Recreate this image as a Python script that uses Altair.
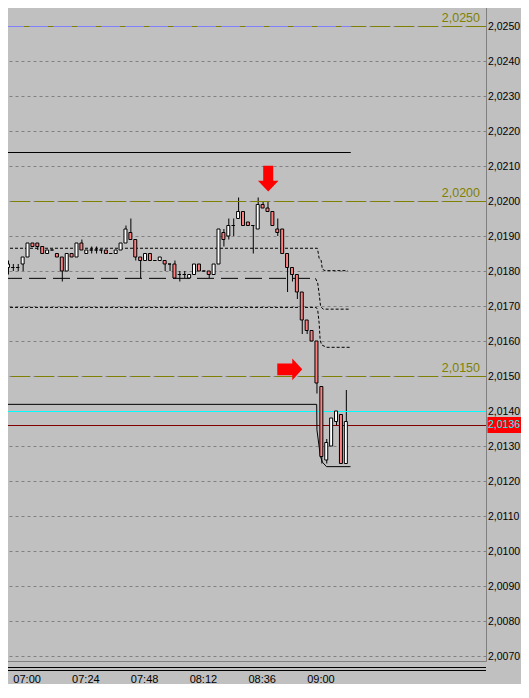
import altair as alt
import pandas as pd

FONT = "Liberation Sans"

# ---------------- data ----------------
FIRST_BAR_MIN = -2          # first bar = 06:58 (minutes after 07:00)
BAR_STEP_MIN = 2            # 2-minute bars

OPEN = [2.0181, 2.0181, 2.0181, 2.0182, 2.0184, 2.0188, 2.0188, 2.0187, 2.0185, 2.0186,
        2.0185, 2.0184, 2.0180, 2.0185, 2.0184, 2.0188, 2.0185, 2.0186, 2.0186, 2.0186,
        2.0186, 2.0185, 2.0185, 2.0186, 2.0188, 2.0191, 2.0189, 2.0184, 2.0183, 2.0185,
        2.0183, 2.0183, 2.0183, 2.0182, 2.0182, 2.0179, 2.0179, 2.0178, 2.0179, 2.0182,
        2.0180, 2.0180, 2.0179, 2.0182, 2.0191, 2.0190, 2.0193, 2.0195, 2.0197, 2.0194,
        2.0193, 2.0192, 2.0199, 2.0198, 2.0197, 2.0192, 2.0192, 2.0185, 2.0181, 2.0179,
        2.0174, 2.0166, 2.0163, 2.0160, 2.0147, 2.0126, 2.0130, 2.0137, 2.0139, 2.0125]
HIGH = [2.0183, 2.0182, 2.0182, 2.0184, 2.0188, 2.0188, 2.0188, 2.0187, 2.0186, 2.0186,
        2.0185, 2.0184, 2.0185, 2.0185, 2.0188, 2.0189, 2.0186, 2.0187, 2.0187, 2.0186,
        2.0186, 2.0185, 2.0186, 2.0188, 2.0193, 2.0195, 2.0189, 2.0184, 2.0185, 2.0185,
        2.0183, 2.0184, 2.0183, 2.0182, 2.0183, 2.0180, 2.0180, 2.0179, 2.0182, 2.0182,
        2.0180, 2.0180, 2.0182, 2.0192, 2.0192, 2.0195, 2.0195, 2.0201, 2.0197, 2.0194,
        2.0193, 2.0201, 2.0200, 2.0200, 2.0197, 2.0195, 2.0192, 2.0185, 2.0181, 2.0179,
        2.0174, 2.0166, 2.0163, 2.0160, 2.0147, 2.0132, 2.0138, 2.0140, 2.0139, 2.0146]
LOW = [2.0179, 2.0180, 2.0180, 2.0180, 2.0184, 2.0187, 2.0186, 2.0185, 2.0185, 2.0186,
       2.0184, 2.0177, 2.0180, 2.0184, 2.0184, 2.0186, 2.0185, 2.0185, 2.0185, 2.0185,
       2.0185, 2.0185, 2.0185, 2.0186, 2.0188, 2.0189, 2.0183, 2.0178, 2.0183, 2.0183,
       2.0183, 2.0183, 2.0180, 2.0180, 2.0178, 2.0177, 2.0178, 2.0178, 2.0179, 2.0180,
       2.0180, 2.0178, 2.0179, 2.0182, 2.0187, 2.0189, 2.0190, 2.0195, 2.0193, 2.0193,
       2.0185, 2.0192, 2.0198, 2.0197, 2.0193, 2.0190, 2.0185, 2.0174, 2.0177, 2.0172,
       2.0162, 2.0162, 2.0160, 2.0145, 2.0125, 2.0125, 2.0130, 2.0136, 2.0125, 2.0125]
CLOSE = [2.0182, 2.0181, 2.0181, 2.0184, 2.0188, 2.0187, 2.0187, 2.0185, 2.0186, 2.0186,
         2.0184, 2.0180, 2.0185, 2.0184, 2.0188, 2.0186, 2.0186, 2.0186, 2.0186, 2.0186,
         2.0185, 2.0185, 2.0186, 2.0188, 2.0192, 2.0189, 2.0184, 2.0183, 2.0185, 2.0183,
         2.0183, 2.0184, 2.0182, 2.0182, 2.0178, 2.0179, 2.0179, 2.0179, 2.0182, 2.0180,
         2.0180, 2.0179, 2.0182, 2.0192, 2.0189, 2.0193, 2.0193, 2.0197, 2.0193, 2.0193,
         2.0193, 2.0199, 2.0198, 2.0197, 2.0193, 2.0191, 2.0185, 2.0181, 2.0179, 2.0174,
         2.0166, 2.0163, 2.0160, 2.0148, 2.0127, 2.0131, 2.0138, 2.0140, 2.0125, 2.0137]

TIME_TICKS = [0, 24, 48, 72, 96, 120]
TIME_LABELS = ["07:00", "07:24", "07:48", "08:12", "08:36", "09:00"]
PRICE_TICKS = [2.007, 2.008, 2.009, 2.010, 2.011, 2.012, 2.013, 2.014, 2.015, 2.016,
               2.017, 2.018, 2.019, 2.020, 2.021, 2.022, 2.023, 2.024, 2.025]

OLIVE_LEVELS = [2.0250, 2.0200, 2.0150]
OLIVE_LABELS = ["2,0250", "2,0200", "2,0150"]
BLUE_LEVEL = [2.0250]
BLACK_LEVEL = [2.0214]
SEGMENT_START = [-3.2]
SEGMENT_END = [138.0]
CYAN_LEVEL = [2.0140]
BID_LEVEL = [2.0136]
BID_LABEL = ["2,0136"]

STEP_A_M = [-3.2, 124.4, 125.1, 125.9, 126.4, 127.5, 136.8]
STEP_A_P = [2.01865, 2.01865, 2.01836, 2.01831, 2.01805, 2.01801, 2.01801]
STEP_B_LEFT_M = [-3.2, 122.8]
STEP_B_LEFT_P = [2.01779, 2.01779]
STEP_B_RIGHT_M = [123.6, 124.5, 125.2, 125.7, 126.8, 137.9]
STEP_B_RIGHT_P = [2.01779, 2.01766, 2.01729, 2.01698, 2.01691, 2.01691]
STEP_C_M = [-3.2, 123.9, 124.5, 125.1, 125.5, 126.1, 128.1, 137.9]
STEP_C_P = [2.01696, 2.01696, 2.01689, 2.01651, 2.01603, 2.01589, 2.01582, 2.01582]
SUPPORT_M = [-3.2, 124.1, 124.2, 125.0, 125.6, 126.4, 128.1, 137.9]
SUPPORT_P = [2.01419, 2.01419, 2.01346, 2.01303, 2.01271, 2.01254, 2.01241, 2.01241]

DOWN_ARROW_M = [104.3]
DOWN_ARROW_P = [2.02064]
RIGHT_ARROW_M = [113.1]
RIGHT_ARROW_P = [2.01519]

# ---------------- frames ----------------
n = len(OPEN)
candles = pd.DataFrame({
    "m": [FIRST_BAR_MIN + BAR_STEP_MIN * i for i in range(n)],
    "open": OPEN, "high": HIGH, "low": LOW, "close": CLOSE,
})
candles["fill"] = ["#ffffff" if c >= o else "#ff8080" for o, c in zip(OPEN, CLOSE)]

olive_df = pd.DataFrame({"price": OLIVE_LEVELS, "label": OLIVE_LABELS})
blue_df = pd.DataFrame({"price": BLUE_LEVEL, "m0": SEGMENT_START, "m1": SEGMENT_END})
black_df = pd.DataFrame({"price": BLACK_LEVEL, "m0": SEGMENT_START, "m1": SEGMENT_END})
cyan_df = pd.DataFrame({"price": CYAN_LEVEL})
bid_df = pd.DataFrame({"price": BID_LEVEL, "label": BID_LABEL})

short_dash = pd.concat([
    pd.DataFrame({"m": STEP_A_M, "price": STEP_A_P, "line": "A"}),
    pd.DataFrame({"m": STEP_B_RIGHT_M, "price": STEP_B_RIGHT_P, "line": "B"}),
    pd.DataFrame({"m": STEP_C_M, "price": STEP_C_P, "line": "C"}),
])
long_dash = pd.DataFrame({"m": STEP_B_LEFT_M, "price": STEP_B_LEFT_P})
support = pd.DataFrame({"m": SUPPORT_M, "price": SUPPORT_P})
down_arrow = pd.DataFrame({"m": DOWN_ARROW_M, "price": DOWN_ARROW_P})
right_arrow = pd.DataFrame({"m": RIGHT_ARROW_M, "price": RIGHT_ARROW_P})
one = pd.DataFrame({"k": [0]})

# ---------------- scales / axes ----------------
W, H = 486, 661
PX_PER_UNIT = 35000.0
Y_TOP = 2.0257429
Y_BOTTOM = Y_TOP - H / PX_PER_UNIT
xsc = alt.Scale(domain=[-3.2, 191.2], nice=False, zero=False)
ysc = alt.Scale(domain=[Y_BOTTOM, Y_TOP], nice=False, zero=False)

x_axis = alt.Axis(
    values=TIME_TICKS,
    labelExpr=f"{TIME_LABELS}[indexof({TIME_TICKS}, datum.value)]",
    labelAlign="left", labelBaseline="top", ticks=False, tickSize=0,
    domain=True, domainColor="#808080", domainWidth=1, grid=False,
    labelPadding=12, labelFont=FONT, labelFontSize=11, labelColor="#000000",
    labelFlush=False, labelOverlap=False, title=None,
)
y_axis = alt.Axis(
    orient="right", values=PRICE_TICKS,
    labelExpr="replace(format(datum.value, '.4f'), '.', ',')",
    ticks=False, tickSize=0, domain=True, domainColor="#808080", domainWidth=1,
    grid=True, gridColor="#808080", gridDash=[3, 3], gridWidth=1,
    labelPadding=1.5, labelFont=FONT, labelFontSize=10.5, labelColor="#000000",
    labelBaseline="middle", labelFlush=False, labelOverlap=False, title=None,
)


def X(f):
    return alt.X(f, type="quantitative", scale=xsc, axis=x_axis)


def Y(f):
    return alt.Y(f, type="quantitative", scale=ysc, axis=y_axis)


# ---------------- layers ----------------
olive = alt.Chart(olive_df).mark_rule(color="#808000", strokeDash=[19, 5], yOffset=0.5).encode(
    y=Y("price"))
olive_text = alt.Chart(olive_df).mark_text(
    align="right", baseline="alphabetic", dy=-4, color="#808000", fontSize=12.5, font=FONT
).encode(x=alt.value(480), y=Y("price"), text="label:N")
blue = alt.Chart(blue_df).mark_rule(color="#8080ff", strokeDash=[19, 5], yOffset=0.5).encode(
    x=X("m0"), x2=alt.X2("m1"), y=Y("price"))
black = alt.Chart(black_df).mark_rule(color="#000000", strokeWidth=1, yOffset=0.5).encode(
    x=X("m0"), x2=alt.X2("m1"), y=Y("price"))
cyan = alt.Chart(cyan_df).mark_rule(color="#00ffff", strokeWidth=1, yOffset=0.5).encode(
    y=Y("price"))
bid_line = alt.Chart(bid_df).mark_rule(color="#800000", strokeWidth=1, yOffset=0.5).encode(
    y=Y("price"))

short_lines = alt.Chart(short_dash).mark_line(color="#000000", strokeWidth=1, strokeDash=[3, 2]).encode(
    x=X("m"), y=Y("price"), detail="line:N")
long_line = alt.Chart(long_dash).mark_line(color="#000000", strokeWidth=1, strokeDash=[17, 7]).encode(
    x=X("m"), y=Y("price"))
support_line = alt.Chart(support).mark_line(color="#000000", strokeWidth=1).encode(
    x=X("m"), y=Y("price"))

wicks = alt.Chart(candles).mark_rule(color="#000000", strokeWidth=1, xOffset=0.5).encode(
    x=X("m"), y=Y("low"), y2=alt.Y2("high"))
bodies = alt.Chart(candles).mark_bar(size=3, stroke="#000000", strokeWidth=1).encode(
    x=X("m"), y=Y("open"), y2=alt.Y2("close"), fill=alt.Fill("fill:N", scale=None))

down_path = "M -0.39 -1 L 0.39 -1 L 0.39 0.17 L 0.8 0.17 L 0 1 L -0.8 0.17 L -0.39 0.17 Z"
right_path = "M -1 -0.47 L 0.2 -0.47 L 0.2 -0.87 L 1 0 L 0.2 0.87 L 0.2 0.47 L -1 0.47 Z"
arrow_down = alt.Chart(down_arrow).mark_point(
    shape=down_path, size=660, filled=True, fill="#ff0000", opacity=1, strokeWidth=0
).encode(x=X("m"), y=Y("price"))
arrow_right = alt.Chart(right_arrow).mark_point(
    shape=right_path, size=625, filled=True, fill="#ff0000", opacity=1, strokeWidth=0
).encode(x=X("m"), y=Y("price"))

bid_box = alt.Chart(bid_df).mark_rect(color="#ff0000", yOffset=-8, y2Offset=8).encode(
    x=alt.value(487.5), x2=alt.value(521), y=Y("price"), y2=alt.Y2("price"))
bid_text = alt.Chart(bid_df).mark_text(
    align="left", baseline="middle", color="#00ffff", fontSize=10.5, font=FONT
).encode(x=alt.value(488), y=Y("price"), text="label:N")

bottom1 = alt.Chart(one).mark_rule(color="#000000", strokeWidth=1).encode(
    x=alt.value(0), x2=alt.value(486), y=alt.value(667.5))
bottom2 = alt.Chart(one).mark_rule(color="#000000", strokeWidth=1).encode(
    x=alt.value(0), x2=alt.value(486), y=alt.value(670.5))

chart = alt.layer(
    wicks, olive, blue, black, cyan, bid_line,
    short_lines, long_line, support_line,
    bodies, arrow_down, arrow_right,
    olive_text, bid_box, bid_text, bottom1, bottom2,
).properties(
    width=W, height=H,
    padding={"left": -8, "top": -8, "right": 35, "bottom": 23},
    autosize=alt.AutoSizeParams(type="none"),
    background="#c0c0c0",
).configure_view(stroke=None)

chart.save("out.html", embed_options={"renderer": "svg", "actions": False})
